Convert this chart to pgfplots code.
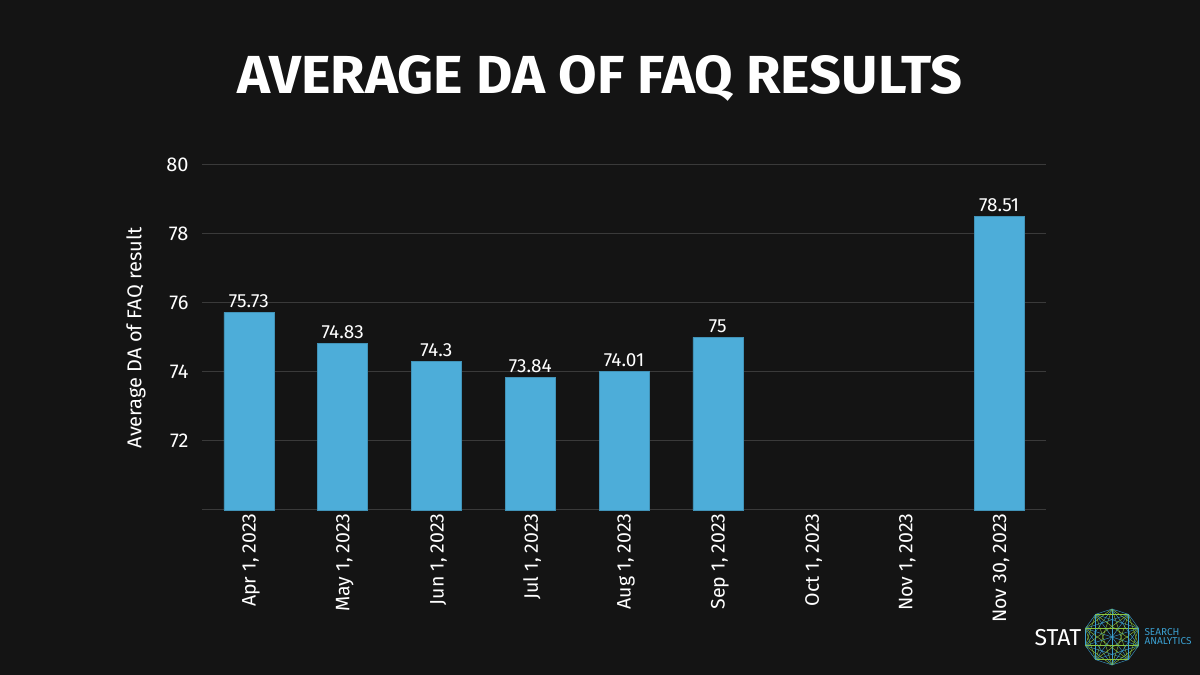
\documentclass[border=0pt]{standalone}
\usepackage{pgfplots}
\pgfplotsset{compat=1.18}
\usetikzlibrary{calc}
\usepackage{fontspec}
\setmainfont{Fira Sans}
\definecolor{bg}{HTML}{141414}
\definecolor{barblue}{HTML}{4DADD9}
\definecolor{gridc}{HTML}{3A3A3A}
\definecolor{logoblue}{HTML}{3A9FD0}
\definecolor{logogreen}{HTML}{8CC63F}
\begin{document}
\begin{tikzpicture}[x=1bp,y=1bp]
\fill[bg] (0,0) rectangle (1200,675);
% title
\node[text=white, anchor=center] at (600,597)
  {\resizebox{725bp}{38bp}{\bfseries AVERAGE DA OF FAQ RESULTS}};
\begin{axis}[
    at={(202bp,165bp)}, anchor=south west,
    scale only axis,
    width=844bp, height=345bp,
    xmin=-0.5, xmax=8.5,
    ymin=70, ymax=80,
    ybar, bar width=50bp,
    axis line style={draw=none},
    major tick length=0pt,
    ytick={70,72,74,76,78,80},
    yticklabels={,72,74,76,78,80},
    ymajorgrids,
    grid style={gridc, line width=1bp},
    xtick={0,...,8},
    xticklabels={{Apr 1, 2023},{May 1, 2023},{Jun 1, 2023},{Jul 1, 2023},{Aug 1, 2023},{Sep 1, 2023},{Oct 1, 2023},{Nov 1, 2023},{Nov 30, 2023}},
    xticklabel style={rotate=90, anchor=east, text=white, font=\fontsize{19.5bp}{22bp}\selectfont, yshift=-2bp},
    yticklabel style={text=white, font=\fontsize{20bp}{23bp}\selectfont, xshift=-10bp},
    /pgf/number format/assume math mode=true,
    nodes near coords,
    nodes near coords style={text=white, font=\fontsize{19bp}{22bp}\selectfont, yshift=1bp},
    point meta=explicit symbolic,
    clip=false,
]
\addplot[fill=barblue, draw=barblue!85!black, line width=0.5bp, bar shift=0pt] coordinates {
    (0,75.73) [75.73]
    (1,74.83) [74.83]
    (2,74.3)  [74.3]
    (3,73.84) [73.84]
    (4,74.01) [74.01]
    (5,75)    [75]
    (8,78.51) [78.51]
};
\end{axis}
% y label
\node[rotate=90, text=white, font=\fontsize{20bp}{23bp}\selectfont] at (136,337) {Average DA of FAQ result};
% logo
\node[text=white, font=\fontsize{23bp}{26bp}\selectfont, anchor=center] at (1058,37) {STAT};
\foreach \i in {0,...,9}{
  \foreach \j in {0,...,9}{
    \ifnum\i<\j
      \pgfmathparse{mod(\i+\j,2)==0 ? 1 : 0}
      \ifnum\pgfmathresult=1
        \draw[logogreen, line width=0.4bp] ($(1112,38)+(90+\i*36:28)$) -- ($(1112,38)+(90+\j*36:28)$);
      \else
        \draw[logoblue, line width=0.4bp] ($(1112,38)+(90+\i*36:28)$) -- ($(1112,38)+(90+\j*36:28)$);
      \fi
    \fi
  }
}
\node[text=logoblue, font=\fontsize{10bp}{11bp}\selectfont, align=left, anchor=west] at (1141,38) {SEARCH\\[-2bp]ANALYTICS};
\end{tikzpicture}
\end{document}
